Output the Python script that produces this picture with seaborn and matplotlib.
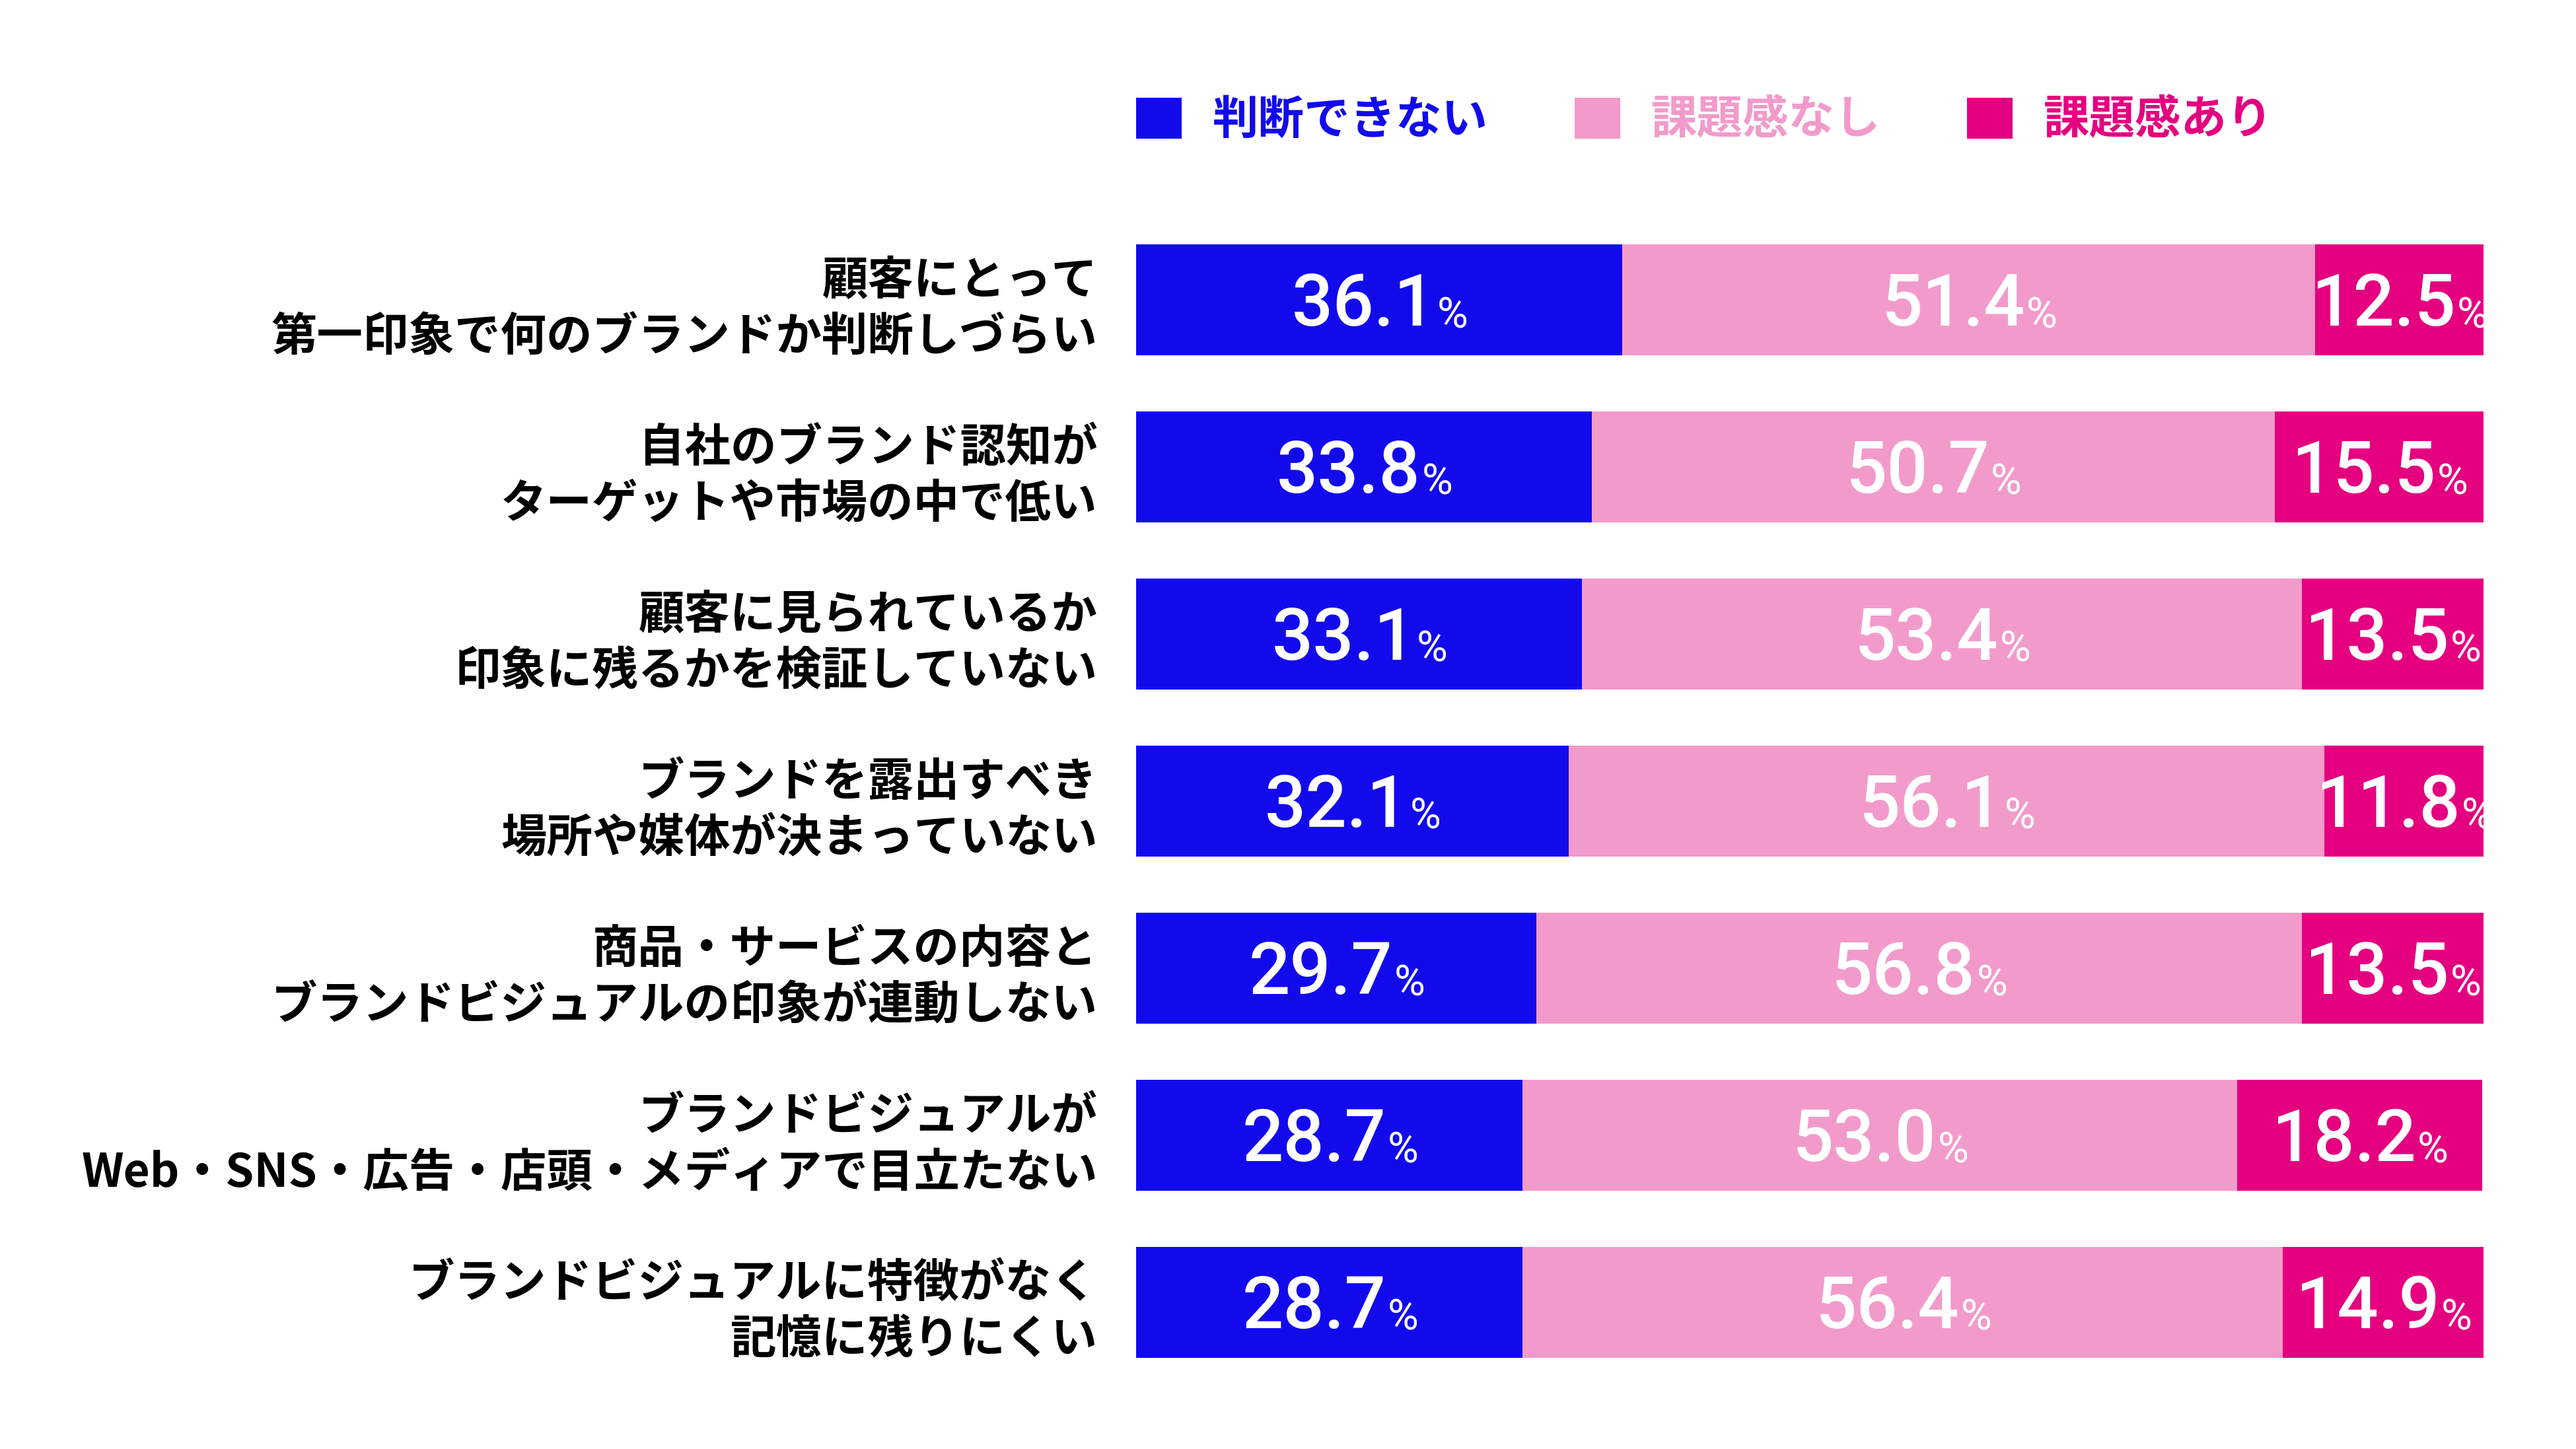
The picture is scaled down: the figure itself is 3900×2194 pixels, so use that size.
import pandas as pd
import matplotlib
matplotlib.use('Agg')
import matplotlib.pyplot as plt
from matplotlib.patches import Patch
import seaborn as sns

sns.set_theme(style="white")
plt.rcParams['font.family'] = ['Noto Sans CJK JP', 'DejaVu Sans']

# Data
categories = [
    '顧客にとって\n第一印象で何のブランドか判断しづらい',
    '自社のブランド認知が\nターゲットや市場の中で低い',
    '顧客に見られているか\n印象に残るかを検証していない',
    'ブランドを露出すべき\n場所や媒体が決まっていない',
    '商品・サービスの内容と\nブランドビジュアルの印象が連動しない',
    'ブランドビジュアルが\nWeb・SNS・広告・店頭・メディアで目立たない',
    'ブランドビジュアルに特徴がなく\n記憶に残りにくい',
]
cannot_judge = [36.1, 33.8, 33.1, 32.1, 29.7, 28.7, 28.7]
no_issue = [51.4, 50.7, 53.4, 56.1, 56.8, 53.0, 56.4]
has_issue = [12.5, 15.5, 13.5, 11.8, 13.5, 18.2, 14.9]
series_names = ['判断できない', '課題感なし', '課題感あり']
colors = ['#130AEC', '#F29BCB', '#E4007F']

df = pd.DataFrame({
    'category': categories,
    'cannot_judge': cannot_judge,
    'no_issue': no_issue,
    'has_issue': has_issue,
})
df['cum1'] = df['cannot_judge']
df['cum2'] = df['cum1'] + df['no_issue']
df['cum3'] = df['cum2'] + df['has_issue']

fig = plt.figure(figsize=(39, 21.94), dpi=100)
ax = fig.add_axes([0.44103, 0.04376, 0.96410 - 0.44103, 0.8507 - 0.04376])

# stacked bars: draw the longest first
for col, c in zip(['cum3', 'cum2', 'cum1'], colors[::-1]):
    sns.barplot(data=df, x=col, y='category', color=c, orient='h',
                width=0.664, saturation=1, linewidth=0, ax=ax)

ax.set_xlim(0, 100)
ax.set_ylim(6.5, -0.5)
ax.set_xticks([])
ax.set_xlabel('')
ax.set_ylabel('')
sns.despine(ax=ax, left=True, bottom=True)
ax.tick_params(axis='y', length=0, pad=42, labelsize=50)
for lbl in ax.get_yticklabels():
    lbl.set_fontweight('bold')
    lbl.set_linespacing(1.27)
    lbl.set_color('black')

# legend
handles = [Patch(facecolor=c, edgecolor='none') for c in colors]
leg = ax.legend(handles, series_names, loc='center left',
                bbox_to_anchor=(0, 1.082), ncol=3, frameon=False,
                prop={'size': 50, 'weight': 'bold'},
                handlelength=1.0, handleheight=1.0, handletextpad=0.67,
                columnspacing=1.88, borderpad=0, borderaxespad=0)
for t, c in zip(leg.get_texts(), colors):
    t.set_color(c)

# value labels: big number + small %
fig.canvas.draw()
renderer = fig.canvas.get_renderer()
num_font = ['Roboto', 'DejaVu Sans']
inv = ax.transData.inverted()
for i in range(len(categories)):
    lefts = [0, cannot_judge[i], cannot_judge[i] + no_issue[i]]
    vals = [cannot_judge[i], no_issue[i], has_issue[i]]
    for left, v in zip(lefts, vals):
        num = ax.text(0, 0, f'{v:.1f}', fontsize=79, family=num_font,
                      weight='medium', color='white', va='baseline', ha='left')
        pct = ax.text(0, 0, '%', fontsize=46, family=num_font,
                      weight='regular', color='white', va='baseline', ha='left')
        w1 = num.get_window_extent(renderer).width
        w2 = pct.get_window_extent(renderer).width
        cx, cy = ax.transData.transform((left + v / 2, i))
        start = cx - (w1 + w2) / 2
        base = cy - 39
        num.set_position(inv.transform((start, base)))
        pct.set_position(inv.transform((start + w1 + 2, base - 3)))

fig.savefig('out.png', dpi=100, facecolor='white')
